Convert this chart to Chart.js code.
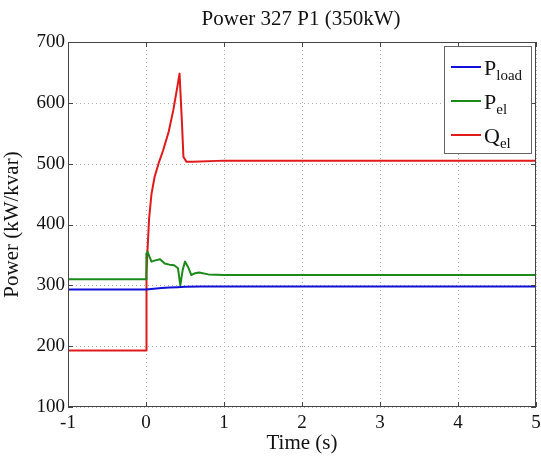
<!DOCTYPE html>
<html>
<head>
<meta charset="utf-8">
<script src="https://cdn.jsdelivr.net/npm/chart.js@4"></script>
<style>
  html, body { margin: 0; padding: 0; background: #fff; }
  #wrap { width: 541px; height: 457px; }
</style>
</head>
<body>
<div id="wrap"><canvas id="chart" width="541" height="457"></canvas></div>
<script>
// values
const loadTime = [-1, 0, 0.1, 0.2, 0.3, 0.4, 0.5, 0.7, 5];
const loadPower = [293, 293, 294.5, 295.5, 296.5, 297, 297.5, 298, 298];

const pelTime = [-1, 0, 0.005, 0.02, 0.07, 0.12, 0.18, 0.24, 0.3, 0.36, 0.41, 0.44, 0.47, 0.5, 0.54, 0.58, 0.63, 0.68, 0.8, 1.0, 5];
const pelPower = [310, 310, 352, 355, 339, 341, 343, 336, 334, 333, 328, 300, 325, 339, 330, 317, 320, 321, 318, 317, 317];

const qelTime = [-1, 0, 0.003, 0.01, 0.02, 0.04, 0.07, 0.11, 0.16, 0.22, 0.29, 0.35, 0.4, 0.43, 0.46, 0.48, 0.52, 0.6, 1.0, 5];
const qelPower = [193, 193, 260, 320, 360, 410, 450, 478, 500, 522, 552, 588, 625, 648, 570, 511, 503, 503, 505, 505];

const xTicks = [-1, 0, 1, 2, 3, 4, 5];
const yTicks = [100, 200, 300, 400, 500, 600, 700];

const titleText = 'Power 327 P1 (350kW)';
const legendItems = [
    { main: 'P', sub: 'load', color: '#1010d8' },
    { main: 'P', sub: 'el', color: '#1a8a1a' },
    { main: 'Q', sub: 'el', color: '#e01a1a' }
];

const serif = '"Liberation Serif", "Times New Roman", serif';

function toPoints(ts, vs) {
    return ts.map((t, i) => ({ x: t, y: vs[i] }));
}

// dotted grid behind the lines
const grid = {
    id: 'dotgrid',
    beforeDatasetsDraw(chart) {
        const ctx = chart.ctx;
        const a = chart.chartArea;
        const xs = chart.scales.x, ys = chart.scales.y;
        ctx.save();
        ctx.strokeStyle = '#b0b0b0';
        ctx.lineWidth = 1;
        ctx.setLineDash([1, 3]);
        ctx.beginPath();
        xTicks.forEach(t => {
            const px = Math.round(xs.getPixelForValue(t)) + 0.5;
            ctx.moveTo(px, a.top); ctx.lineTo(px, a.bottom);
        });
        yTicks.forEach(v => {
            const py = Math.round(ys.getPixelForValue(v)) + 0.5;
            ctx.moveTo(a.left, py); ctx.lineTo(a.right, py);
        });
        ctx.stroke();
        ctx.restore();
    }
};

// box, inward ticks, title and the legend with subscripts
const decor = {
    id: 'decor',
    afterDraw(chart) {
        const ctx = chart.ctx;
        const a = chart.chartArea;
        const xs = chart.scales.x, ys = chart.scales.y;
        ctx.save();
        ctx.strokeStyle = '#444';
        ctx.lineWidth = 1;
        ctx.strokeRect(a.left + 0.5, a.top + 0.5, a.right - a.left - 1, a.bottom - a.top - 1);
        ctx.beginPath();
        xTicks.forEach(t => {
            const px = Math.round(xs.getPixelForValue(t)) + 0.5;
            ctx.moveTo(px, a.bottom); ctx.lineTo(px, a.bottom - 5);
            ctx.moveTo(px, a.top); ctx.lineTo(px, a.top + 5);
        });
        yTicks.forEach(v => {
            const py = Math.round(ys.getPixelForValue(v)) + 0.5;
            ctx.moveTo(a.left, py); ctx.lineTo(a.left + 5, py);
            ctx.moveTo(a.right, py); ctx.lineTo(a.right - 5, py);
        });
        ctx.stroke();

        ctx.fillStyle = '#111';
        ctx.font = '21px ' + serif;
        ctx.textAlign = 'center';
        ctx.textBaseline = 'middle';
        ctx.fillText(titleText, 301, 19);

        // legend
        const lx = 444, ly = 46, lw = 87, lh = 107;
        ctx.fillStyle = '#fff';
        ctx.fillRect(lx, ly, lw, lh);
        ctx.strokeStyle = '#666';
        ctx.strokeRect(lx + 0.5, ly + 0.5, lw, lh);
        legendItems.forEach((it, i) => {
            const y = 67 + i * 34;
            ctx.strokeStyle = it.color;
            ctx.lineWidth = 2;
            ctx.beginPath();
            ctx.moveTo(451, y); ctx.lineTo(481, y);
            ctx.stroke();
            ctx.fillStyle = '#111';
            ctx.textAlign = 'left';
            ctx.textBaseline = 'alphabetic';
            ctx.font = '22px ' + serif;
            ctx.fillText(it.main, 484, y + 8);
            const w = ctx.measureText(it.main).width;
            ctx.font = '15px ' + serif;
            ctx.fillText(it.sub, 484 + w, y + 13);
        });
        ctx.restore();
    }
};

function lineSet(label, ts, vs, color) {
    return {
        label: label,
        data: toPoints(ts, vs),
        borderColor: color,
        backgroundColor: color,
        borderWidth: 2,
        borderJoinStyle: 'round',
        pointRadius: 0,
        tension: 0,
        fill: false
    };
}

new Chart(document.getElementById('chart').getContext('2d'), {
    type: 'line',
    data: {
        datasets: [
            lineSet('Pload', loadTime, loadPower, legendItems[0].color),
            lineSet('Pel', pelTime, pelPower, legendItems[1].color),
            lineSet('Qel', qelTime, qelPower, legendItems[2].color)
        ]
    },
    options: {
        responsive: false,
        animation: false,
        layout: { padding: { top: 42, right: 5, left: 0, bottom: 0 } },
        plugins: {
            legend: { display: false },
            tooltip: { enabled: false },
            title: { display: false }
        },
        scales: {
            x: {
                type: 'linear',
                min: -1,
                max: 5,
                afterFit(scale) {
                    scale.height = 50;
                    scale.paddingLeft = 0;
                    scale.paddingRight = 0;
                },
                afterBuildTicks(scale) { scale.ticks = xTicks.map(v => ({ value: v })); },
                ticks: {
                    color: '#111',
                    font: { family: serif, size: 19 },
                    padding: 5,
                    callback: v => String(v)
                },
                grid: { display: false, drawTicks: false, tickLength: 0 },
                border: { display: false },
                title: {
                    display: true,
                    text: 'Time (s)',
                    color: '#111',
                    font: { family: serif, size: 21 },
                    padding: { top: 0, bottom: 1 }
                }
            },
            y: {
                min: 100,
                max: 700,
                afterFit(scale) {
                    scale.width = 68;
                    scale.paddingTop = 0;
                    scale.paddingBottom = 0;
                },
                afterBuildTicks(scale) { scale.ticks = yTicks.map(v => ({ value: v })); },
                ticks: {
                    color: '#111',
                    font: { family: serif, size: 19 },
                    padding: 3
                },
                grid: { display: false, drawTicks: false, tickLength: 0 },
                border: { display: false },
                title: {
                    display: true,
                    text: 'Power (kW/kvar)',
                    color: '#111',
                    font: { family: serif, size: 21 },
                    padding: { top: 0, bottom: 0 }
                }
            }
        }
    },
    plugins: [grid, decor]
});
</script>
</body>
</html>
